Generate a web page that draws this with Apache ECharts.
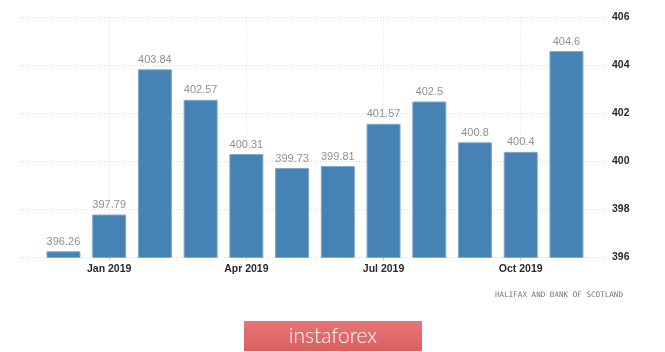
<!DOCTYPE html>
<html>
<head>
<meta charset="utf-8">
<script src="https://cdn.jsdelivr.net/npm/echarts@6/dist/echarts.min.js"></script>
<style>
html, body { margin: 0; padding: 0; background: #fff; }
#chart-container { width: 665px; height: 352px; }
</style>
</head>
<body>
<div id="chart-container"></div>
<script>
// months from Dec 2018 to Nov 2019, Jan 2019 = index 0 on the x axis
var months = ['Dec 2018', 'Jan 2019', 'Feb 2019', 'Mar 2019', 'Apr 2019', 'May 2019',
	'Jun 2019', 'Jul 2019', 'Aug 2019', 'Sep 2019', 'Oct 2019', 'Nov 2019'];
var values = [396.26, 397.79, 403.84, 402.57, 400.31, 399.73, 399.81, 401.57, 402.5, 400.8, 400.4, 404.6];
var yTicks = [396, 398, 400, 402, 404, 406];
var source = 'HALIFAX AND BANK OF SCOTLAND';
var brand = 'instaforex';

var chartDom = document.getElementById('chart-container');
var myChart = echarts.init(chartDom);
var option;

var points = values.map(function (v, i) { return [i - 1, v]; });

option = {
	animation: false,
	grid: {
		left: 20,
		right: 56,
		top: 17.5,
		bottom: 94.5,
		outerBoundsMode: 'none'
	},
	xAxis: {
		type: 'value',
		min: -1.95,
		max: 10.93,
		splitNumber: 4,
		axisLine: { show: false },
		axisTick: { show: true, length: 3, lineStyle: { color: '#c8c8c8' } },
		axisLabel: {
			showMinLabel: false,
			showMaxLabel: false,
			margin: 6,
			color: '#2a2a2a',
			fontSize: 10.5,
			fontWeight: 'bold',
			fontFamily: 'Liberation Sans',
			formatter: function (v) {
				return months[Math.round(v) + 1] || '';
			}
		},
		splitLine: {
			show: true,
			showMinLine: false,
			showMaxLine: false,
			lineStyle: { color: '#dedede', type: [1, 2] }
		}
	},
	yAxis: {
		type: 'value',
		position: 'right',
		min: yTicks[0],
		max: yTicks[yTicks.length - 1],
		interval: 2,
		axisLine: { show: false },
		axisTick: { show: false },
		axisLabel: {
			margin: 3,
			color: '#2a2a2a',
			fontSize: 10.5,
			fontWeight: 'bold',
			fontFamily: 'Liberation Sans'
		},
		splitLine: {
			lineStyle: { color: '#d6d6d6', type: [1, 2] }
		}
	},
	series: [
		{
			type: 'bar',
			data: points,
			barWidth: 34,
			itemStyle: {
				color: '#4682b4',
				borderColor: '#7fa8cf',
				borderWidth: 1
			},
			label: {
				show: true,
				position: 'top',
				distance: 4,
				color: '#909090',
				fontSize: 11,
				fontFamily: 'Liberation Sans',
				formatter: function (p) { return p.value[1]; }
			}
		}
	],
	graphic: [
		{
			type: 'text',
			right: 42,
			top: 291,
			style: {
				text: source,
				fill: '#777',
				font: '7.6px "DejaVu Sans Mono"'
			}
		},
		{
			type: 'rect',
			left: 244,
			top: 321,
			shape: { width: 178, height: 30 },
			style: {
				fill: new echarts.graphic.LinearGradient(0, 0, 0, 1, [
					{ offset: 0, color: '#e87476' },
					{ offset: 1, color: '#d9605f' }
				])
			}
		},
		{
			type: 'text',
			x: 333,
			y: 336,
			style: {
				text: brand,
				fill: '#fff',
				font: '300 21px Lato',
				textAlign: 'center',
				textVerticalAlign: 'middle'
			}
		}
	]
};

myChart.setOption(option);

window.addEventListener('resize', function () {
	myChart.resize();
});
</script>
</body>
</html>
